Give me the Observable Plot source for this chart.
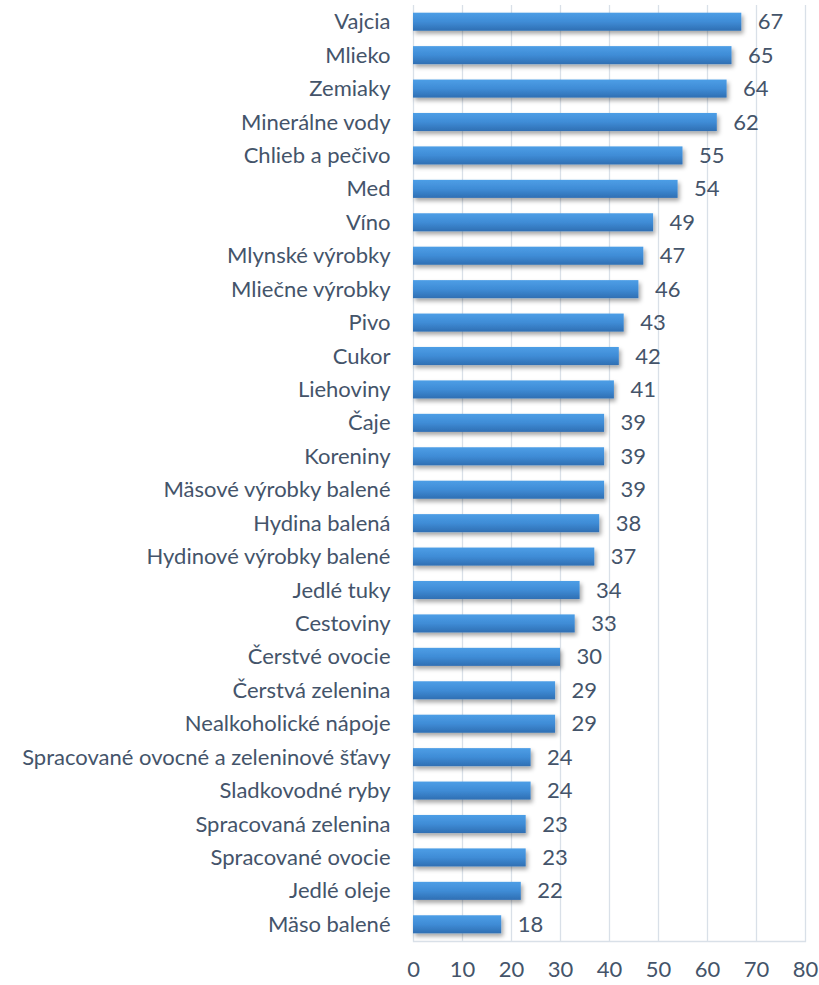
<!DOCTYPE html>
<html><head><meta charset="utf-8">
<script src="https://cdn.jsdelivr.net/npm/d3@7"></script>
<script src="https://cdn.jsdelivr.net/npm/@observablehq/plot@0.6"></script>
<style>
body{margin:0;background:#fff;}
#chart svg{display:block;}
</style>
</head><body><div id="chart"></div>
<script>
const categories = ["Vajcia","Mlieko","Zemiaky","Minerálne vody","Chlieb a pečivo","Med","Víno","Mlynské výrobky","Mliečne výrobky","Pivo","Cukor","Liehoviny","Čaje","Koreniny","Mäsové výrobky balené","Hydina balená","Hydinové výrobky balené","Jedlé tuky","Cestoviny","Čerstvé ovocie","Čerstvá zelenina","Nealkoholické nápoje","Spracované ovocné a zeleninové šťavy","Sladkovodné ryby","Spracovaná zelenina","Spracované ovocie","Jedlé oleje","Mäso balené"];
const values = [67,65,64,62,55,54,49,47,46,43,42,41,39,39,39,38,37,34,33,30,29,29,24,24,23,23,22,18];
const xTicks = [0,10,20,30,40,50,60,70,80];

const data = categories.map((c,i)=>({cat:c, v:values[i]}));
const textColor = "#44546a";
const fs = 22;

const chart = Plot.plot({
  width: 819, height: 985,
  marginLeft: 413, marginRight: 14, marginTop: 5, marginBottom: 44,
  style: {fontFamily: "Lato, 'Open Sans', sans-serif", fontSize: fs + "px", color: textColor, background: "#fff"},
  x: {domain: [0,80], ticks: xTicks, label: null, tickSize: 0, tickPadding: 20},
  y: {domain: categories, label: null, tickSize: 0, tickPadding: 23, paddingInner: 0.46, paddingOuter: 0.23, round: false},
  marks: [
    Plot.gridX(xTicks, {stroke: "#d9e0e8", strokeOpacity: 1, strokeWidth: 1.3}),
    Plot.frame({anchor: "bottom", stroke: "#d9e0e8", strokeWidth: 1.3}),
    Plot.barX(data, {x: "v", y: "cat", fill: "url(#barGrad)"}),
    Plot.text(data, {x: "v", y: "cat", text: d => String(d.v), textAnchor: "start", dx: 16, fill: textColor, fontSize: fs}),
    Plot.axisX({ticks: xTicks, tickSize: 0, tickPadding: 20, fontSize: fs, fill: textColor}),
    Plot.axisY({tickSize: 0, tickPadding: 23, fontSize: fs, fill: textColor})
  ]
});

const svgNS = "http://www.w3.org/2000/svg";
const defs = document.createElementNS(svgNS, "defs");
defs.innerHTML = `
<linearGradient id="barGrad" x1="0" y1="0" x2="0" y2="1">
  <stop offset="0" stop-color="#4d9ee6"/>
  <stop offset="0.5" stop-color="#3f8cd6"/>
  <stop offset="1" stop-color="#2f6fb3"/>
</linearGradient>
<filter id="shadow" x="-10%" y="-30%" width="130%" height="190%">
  <feDropShadow dx="2" dy="3" stdDeviation="2" flood-color="#000" flood-opacity="0.35"/>
</filter>`;
chart.insertBefore(defs, chart.firstChild);
chart.querySelectorAll("g[aria-label='bar'] rect").forEach(r => r.setAttribute("filter","url(#shadow)"));
document.getElementById("chart").appendChild(chart);
</script>
</body></html>
